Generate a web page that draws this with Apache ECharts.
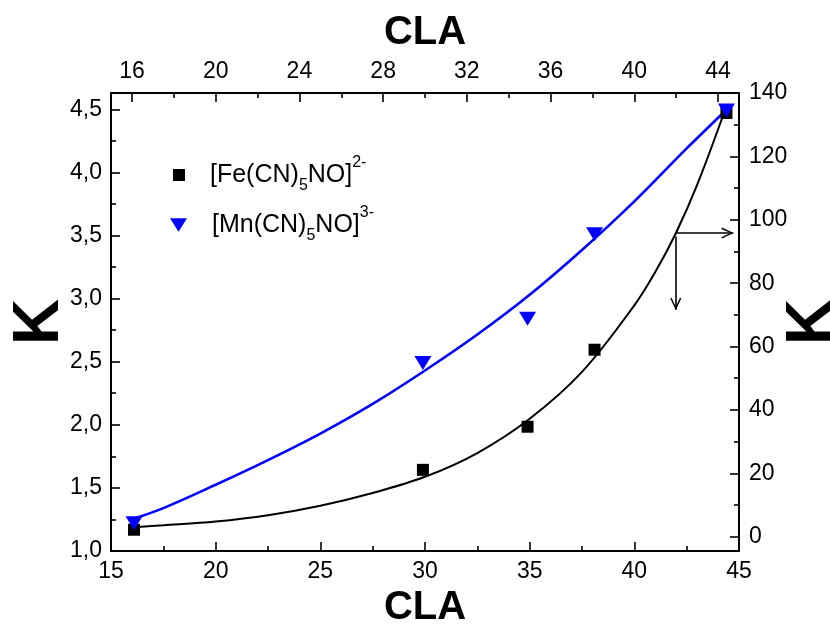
<!DOCTYPE html>
<html>
<head>
<meta charset="utf-8">
<script src="https://cdn.jsdelivr.net/npm/echarts@6/dist/echarts.min.js"></script>
<style>
  html, body { margin: 0; padding: 0; background: #fff; }
  #chart { width: 830px; height: 625px; }
</style>
</head>
<body>
<div id="chart"></div>
<script>
// Measured stability constants versus CLA
const feName = '[Fe(CN)5NO]2-';
const mnName = '[Mn(CN)5NO]3-';
const feCLA = [16.1, 29.9, 34.9, 38.1, 44.4];
const feK   = [2.2, 21.1, 34.7, 59.0, 133.7];      // right K axis
const mnCLA = [16.1, 29.9, 34.9, 38.1, 44.4];
const mnK   = [1.22, 2.49, 2.84, 3.51, 4.49];      // left K axis

// Fitted curves
const feFitCLA = [16.1, 17.5, 20, 22.5, 25, 27.5, 30, 32.5, 35, 37.5, 40, 41, 42, 43, 44.3];
const feFitK   = [3.0, 3.6, 4.8, 6.8, 9.8, 13.8, 18.9, 26.4, 37.2, 52.0, 73.0, 83.5, 96.0, 111.0, 134.0];
const mnFitCLA = [16.1, 17.5, 20, 22.5, 25, 27.5, 30, 32.5, 35, 37.5, 40, 42.5, 44.3];
const mnFitK   = [1.257, 1.34, 1.525, 1.72, 1.93, 2.165, 2.43, 2.715, 3.03, 3.385, 3.77, 4.19, 4.48];

// Tick positions
const topLabels   = [16, 20, 24, 28, 32, 36, 40, 44];
const topMinor    = [18, 22, 26, 30, 34, 38, 42];
const leftLabels  = [1.0, 1.5, 2.0, 2.5, 3.0, 3.5, 4.0, 4.5];
const leftMinor   = [1.25, 1.75, 2.25, 2.75, 3.25, 3.75, 4.25];
const rightLabels = [0, 20, 40, 60, 80, 100, 120, 140];
const rightMinor  = [10, 30, 50, 70, 90, 110, 130];

const FONT = '"Liberation Sans", Arial, sans-serif';
const INK = '#000';
const BLUE = '#0000ff';
const zip = (xs, ys) => xs.map((x, i) => [x, ys[i]]);

const axisLine = { show: true, onZero: false, lineStyle: { color: INK, width: 2 } };
const majorTick = (vals) => ({ show: true, inside: true, length: 9, customValues: vals, lineStyle: { color: INK, width: 1.6 } });
const minorTickAxis = (vals) => ({ show: true, inside: true, length: 5, customValues: vals, lineStyle: { color: INK, width: 1.6 } });
const labelStyle = { color: INK, fontFamily: FONT, fontSize: 23 };
const nameStyle = (size) => ({ color: INK, fontFamily: FONT, fontSize: size, fontWeight: 'bold' });

// Open arrowhead, tip at the centre of its bounding box
const arrowHead = 'path://M5.5,0L5.6,0L5.5,0.1Z M0,22.8L5.5,11.6L11,22.8L9.7,23.5L5.5,14.6L1.3,23.5Z';
// Downward triangle for the legend key
const downTriangle = 'path://M0,0L20,0L10,16Z';

const richText = {
  g: { width: 20, fontSize: 10 },
  m: { fontFamily: FONT, fontSize: 25, lineHeight: 30, color: INK },
  b: { fontFamily: FONT, fontSize: 16, height: 8, lineHeight: 8, verticalAlign: 'bottom', color: INK },
  p: { fontFamily: FONT, fontSize: 16, height: 6, lineHeight: 6, verticalAlign: 'top', color: INK }
};
const legendText = (name) => name === feName
  ? '{g| }{m|[Fe(CN)}{b|5}{m|NO]}{p|2-}'
  : '{g| }{m|[Mn(CN)}{b|5}{m|NO]}{p|3-}';

const chart = echarts.init(document.getElementById('chart'), null, { renderer: 'canvas' });

chart.setOption({
  animation: false,
  backgroundColor: '#fff',
  grid: { left: 111, right: 91, top: 93, bottom: 74, containLabel: false, outerBoundsMode: 'none' },
  legend: [
    {
      data: [{ name: feName, icon: 'rect' }], left: 173, top: 155, padding: 0,
      itemWidth: 12, itemHeight: 12, selectedMode: false,
      itemStyle: { color: INK, opacity: 1 },
      formatter: legendText, textStyle: { rich: richText }
    },
    {
      data: [{ name: mnName, icon: downTriangle }], left: 170, top: 205, padding: 0,
      itemWidth: 17, itemHeight: 14, selectedMode: false,
      itemStyle: { color: BLUE, opacity: 1 },
      formatter: legendText, textStyle: { rich: richText }
    }
  ],
  xAxis: [
    {
      type: 'value', position: 'bottom', min: 15, max: 45, interval: 5,
      axisLine, splitLine: { show: false },
      axisTick: { show: true, inside: true, length: 9, lineStyle: { color: INK, width: 1.6 } },
      minorTick: { show: true, splitNumber: 2, length: 5, lineStyle: { color: INK, width: 1.6 } },
      axisLabel: Object.assign({ margin: 9 }, labelStyle),
      name: 'CLA', nameLocation: 'middle', nameGap: 33, nameTextStyle: nameStyle(40)
    },
    {
      type: 'value', position: 'top', min: 15, max: 45,
      axisLine, splitLine: { show: false },
      axisTick: majorTick(topLabels),
      axisLabel: Object.assign({ margin: 10, customValues: topLabels }, labelStyle),
      name: 'CLA', nameLocation: 'middle', nameGap: 40, nameTextStyle: nameStyle(40)
    },
    {
      type: 'value', position: 'top', min: 15, max: 45,
      axisLine: { show: false, onZero: false }, splitLine: { show: false },
      axisTick: minorTickAxis(topMinor), axisLabel: { show: false }
    }
  ],
  yAxis: [
    {
      type: 'value', position: 'left', min: 1.0, max: 4.629,
      axisLine, splitLine: { show: false },
      axisTick: majorTick(leftLabels),
      axisLabel: Object.assign({
        margin: 9, customValues: leftLabels,
        formatter: (v) => v.toFixed(1).replace('.', ',')
      }, labelStyle),
      name: 'K', nameLocation: 'middle', nameGap: 39, nameRotate: 90, nameMoveOverlap: false,
      nameTextStyle: nameStyle(64)
    },
    {
      type: 'value', position: 'left', min: 1.0, max: 4.629,
      axisLine: { show: false, onZero: false }, splitLine: { show: false },
      axisTick: minorTickAxis(leftMinor), axisLabel: { show: false }
    },
    {
      type: 'value', position: 'right', min: -4.51, max: 140,
      axisLine, splitLine: { show: false },
      axisTick: majorTick(rightLabels),
      axisLabel: Object.assign({ margin: 10, customValues: rightLabels }, labelStyle),
      name: 'K', nameLocation: 'middle', nameGap: 42, nameRotate: 90, nameMoveOverlap: false,
      nameTextStyle: nameStyle(64)
    },
    {
      type: 'value', position: 'right', min: -4.51, max: 140,
      axisLine: { show: false, onZero: false }, splitLine: { show: false },
      axisTick: minorTickAxis(rightMinor), axisLabel: { show: false }
    }
  ],
  series: [
    {
      name: 'fe-fit', type: 'line', xAxisIndex: 0, yAxisIndex: 2,
      data: zip(feFitCLA, feFitK), smooth: 0.35, showSymbol: false, symbol: 'none',
      lineStyle: { color: INK, width: 2 }, silent: true, z: 2,
      markLine: {
        silent: true, animation: false,
        symbol: ['none', arrowHead], symbolSize: [11, 24],
        label: { show: false },
        lineStyle: { color: INK, width: 1.6, type: 'solid', opacity: 1 },
        emphasis: { disabled: true },
        data: [
          [{ coord: [42.03, 95.8] }, { coord: [44.73, 95.8] }],
          [{ coord: [41.98, 94.7] }, { coord: [41.98, 71.6] }]
        ]
      }
    },
    {
      name: 'mn-fit', type: 'line', xAxisIndex: 0, yAxisIndex: 0,
      data: zip(mnFitCLA, mnFitK), smooth: 0.35, showSymbol: false, symbol: 'none',
      lineStyle: { color: BLUE, width: 2.6 }, silent: true, z: 2
    },
    {
      name: feName, type: 'scatter', xAxisIndex: 0, yAxisIndex: 2,
      data: zip(feCLA, feK), symbol: 'rect', symbolSize: 12,
      itemStyle: { color: INK, opacity: 1 }, z: 3
    },
    {
      name: mnName, type: 'scatter', xAxisIndex: 0, yAxisIndex: 0,
      data: zip(mnCLA, mnK), symbol: 'triangle', symbolRotate: 180, symbolSize: [17, 14],
      itemStyle: { color: BLUE, opacity: 1 }, z: 4
    }
  ]
});
</script>
</body>
</html>
